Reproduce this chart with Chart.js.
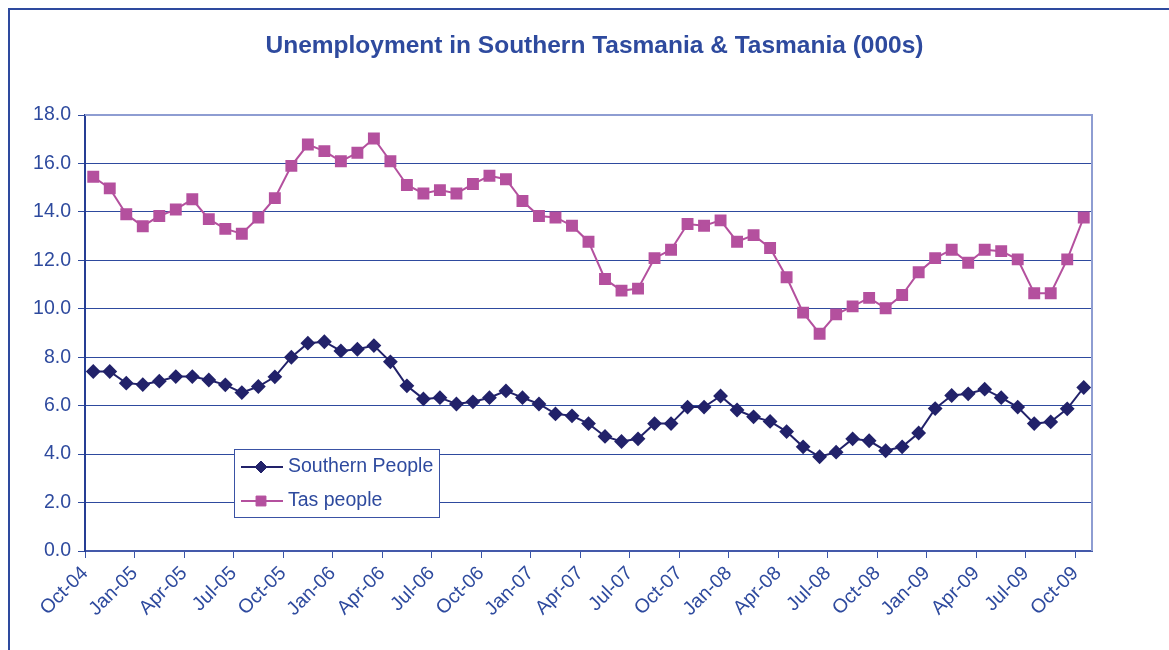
<!DOCTYPE html>
<html><head><meta charset="utf-8">
<script src="https://cdn.jsdelivr.net/npm/chart.js@4/dist/chart.umd.min.js"></script>
<style>html,body{margin:0;padding:0;background:#fff;}#wrap{width:1169px;height:650px;position:relative;}</style>
</head><body><div id="wrap"><canvas id="c" width="1169" height="650"></canvas></div>
<script>
const categories = [
 "Oct-04","Nov-04","Dec-04","Jan-05","Feb-05","Mar-05","Apr-05","May-05","Jun-05","Jul-05","Aug-05","Sep-05",
 "Oct-05","Nov-05","Dec-05","Jan-06","Feb-06","Mar-06","Apr-06","May-06","Jun-06","Jul-06","Aug-06","Sep-06",
 "Oct-06","Nov-06","Dec-06","Jan-07","Feb-07","Mar-07","Apr-07","May-07","Jun-07","Jul-07","Aug-07","Sep-07",
 "Oct-07","Nov-07","Dec-07","Jan-08","Feb-08","Mar-08","Apr-08","May-08","Jun-08","Jul-08","Aug-08","Sep-08",
 "Oct-08","Nov-08","Dec-08","Jan-09","Feb-09","Mar-09","Apr-09","May-09","Jun-09","Jul-09","Aug-09","Sep-09",
 "Oct-09"];
const southernPeople = [
 7.41,7.41,6.93,6.87,7.01,7.20,7.20,7.06,6.86,6.54,6.79,7.19,
 8.00,8.58,8.64,8.26,8.33,8.48,7.81,6.82,6.28,6.33,6.07,6.16,
 6.33,6.61,6.33,6.07,5.66,5.58,5.26,4.73,4.52,4.63,5.26,5.26,
 5.94,5.94,6.40,5.82,5.54,5.35,4.93,4.30,3.89,4.08,4.63,4.55,
 4.14,4.30,4.87,5.88,6.42,6.49,6.68,6.33,5.94,5.26,5.33,5.87,
 6.75];
const tasPeople = [
 15.45,14.97,13.90,13.41,13.83,14.10,14.52,13.70,13.30,13.10,13.77,14.57,
 15.90,16.78,16.51,16.09,16.44,17.03,16.09,15.11,14.76,14.90,14.76,15.15,
 15.49,15.35,14.45,13.83,13.77,13.43,12.77,11.23,10.75,10.83,12.09,12.44,
 13.50,13.43,13.65,12.77,13.04,12.51,11.30,9.84,8.97,9.77,10.10,10.45,
 10.02,10.57,11.51,12.09,12.44,11.90,12.44,12.38,12.04,10.64,10.64,12.04,
 13.77];
const xTickLabels = ["Oct-04","Jan-05","Apr-05","Jul-05","Oct-05","Jan-06","Apr-06","Jul-06","Oct-06","Jan-07","Apr-07",
 "Jul-07","Oct-07","Jan-08","Apr-08","Jul-08","Oct-08","Jan-09","Apr-09","Jul-09","Oct-09"];
const yTickValues = [0,2,4,6,8,10,12,14,16,18];
const titleText = "Unemployment in Southern Tasmania & Tasmania (000s)";

const BLUE = '#2E4A9E';
const FONT = '"Liberation Sans", Arial, sans-serif';

const toPoints = arr => arr.map((v, i) => ({x: i, y: v}));

const decor = {
  id: 'decor',
  beforeDraw(chart) {
    const ctx = chart.ctx;
    ctx.save();
    ctx.fillStyle = '#fff';
    ctx.fillRect(0, 0, chart.width, chart.height);
    ctx.strokeStyle = BLUE;
    ctx.lineWidth = 2;
    ctx.strokeRect(9, 9, chart.width + 20, chart.height + 20);
    ctx.restore();
  },
  afterDraw(chart) {
    const ctx = chart.ctx, ca = chart.chartArea;
    ctx.save();
    // title
    ctx.font = 'bold 24.5px ' + FONT;
    ctx.fillStyle = BLUE;
    ctx.textAlign = 'center';
    ctx.textBaseline = 'alphabetic';
    ctx.fillText(titleText, 594.5, 53);
    // top & right frame
    ctx.strokeStyle = '#8E9DD2';
    ctx.lineWidth = 2;
    ctx.beginPath();
    ctx.moveTo(ca.left, ca.top);
    ctx.lineTo(ca.right, ca.top);
    ctx.lineTo(ca.right, ca.bottom);
    ctx.stroke();
    // legend
    const bx = 234, by = 449, bw = 205, bh = 68;
    ctx.fillStyle = '#fff';
    ctx.fillRect(bx, by, bw, bh);
    ctx.strokeStyle = '#3A52A4';
    ctx.lineWidth = 1;
    ctx.strokeRect(bx + 0.5, by + 0.5, bw, bh);
    const rows = [467, 501];
    chart.data.datasets.forEach((ds, i) => {
      const y = rows[i];
      ctx.strokeStyle = ds.borderColor;
      ctx.lineWidth = 2;
      ctx.beginPath();
      ctx.moveTo(241, y);
      ctx.lineTo(283, y);
      ctx.stroke();
      ctx.fillStyle = ds.pointBackgroundColor;
      ctx.strokeStyle = ds.pointBorderColor;
      ctx.lineWidth = 1;
      Chart.helpers.drawPoint(ctx, {pointStyle: ds.pointStyle, radius: ds.pointRadius, borderWidth: 1, rotation: 0}, 261, y);
      ctx.fillStyle = BLUE;
      ctx.font = '19.5px ' + FONT;
      ctx.textAlign = 'left';
      ctx.textBaseline = 'middle';
      ctx.fillText(ds.label, 288, y);
    });
    ctx.restore();
  }
};

new Chart(document.getElementById('c'), {
  type: 'line',
  data: {
    datasets: [
      {label: 'Southern People', data: toPoints(southernPeople), borderColor: '#22226A', backgroundColor: '#22226A',
       pointBackgroundColor: '#22226A', pointBorderColor: '#22226A', pointStyle: 'rectRot', pointRadius: 6,
       borderWidth: 2, tension: 0},
      {label: 'Tas people', data: toPoints(tasPeople), borderColor: '#B4509E', backgroundColor: '#B4509E',
       pointBackgroundColor: '#B4509E', pointBorderColor: '#B4509E', pointStyle: 'rect', pointRadius: 7,
       borderWidth: 2, tension: 0}
    ]
  },
  options: {
    responsive: false, animation: false, devicePixelRatio: 1,
    layout: {padding: {top: 115, left: 0, right: 77, bottom: 0}},
    plugins: {legend: {display: false}, title: {display: false}, tooltip: {enabled: false}},
    scales: {
      x: {
        type: 'linear', min: -0.5, max: categories.length - 0.5,
        afterBuildTicks(scale) {
          scale.ticks = xTickLabels.map(l => ({value: categories.indexOf(l) - 0.5}));
        },
        afterFit(scale) { scale.height = 99; },
        ticks: {
          autoSkip: false, minRotation: 45, maxRotation: 45, padding: 4,
          color: BLUE, font: {family: FONT, size: 19.5},
          callback(value) { return categories[Math.round(value + 0.5)]; }
        },
        grid: {drawOnChartArea: false, drawTicks: true, tickLength: 7, color: '#3A55A8', lineWidth: 1},
        border: {display: true, color: '#4459AA', width: 2}
      },
      y: {
        type: 'linear', min: 0, max: 18,
        afterBuildTicks(scale) { scale.ticks = yTickValues.map(v => ({value: v})); },
        afterFit(scale) { scale.width = 85; },
        ticks: {
          padding: 7, color: BLUE, font: {family: FONT, size: 19.5},
          callback(value) { return value.toFixed(1); }
        },
        grid: {color: '#2E4A9E', lineWidth: 1, tickLength: 7, drawTicks: true},
        border: {display: true, color: '#263E94', width: 2}
      }
    }
  },
  plugins: [decor]
});
</script></body></html>
